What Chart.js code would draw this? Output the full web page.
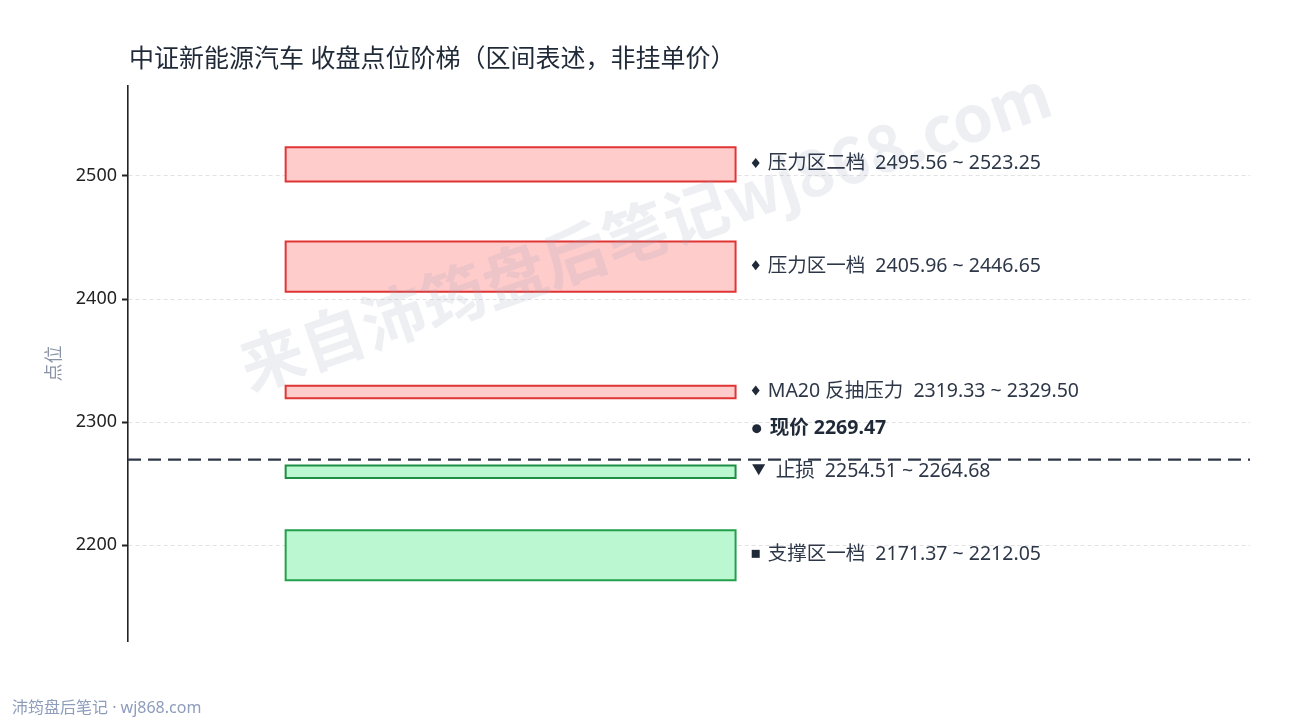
<!DOCTYPE html>
<html>
<head>
<meta charset="utf-8">
<script src="https://cdn.jsdelivr.net/npm/chart.js@4.4.1/dist/chart.umd.min.js"></script>
<style>
    html, body { margin: 0; padding: 0; background: #fff; }
    #wrap { width: 1290px; height: 720px; }
</style>
</head>
<body>
<div id="wrap"><canvas id="ladderChart"></canvas></div>
<script>
// zone data
const zoneNames = ['压力区二档', '压力区一档', 'MA20 反抽压力', '止损', '支撑区一档'];
const zoneLow = [2495.56, 2405.96, 2319.33, 2254.51, 2171.37];
const zoneHigh = [2523.25, 2446.65, 2329.50, 2264.68, 2212.05];
const zoneKind = ['resist', 'resist', 'resist', 'stop', 'support'];
const currentPrice = 2269.47;
const yTicks = [2200, 2300, 2400, 2500];

const FONT = '"Noto Sans", "Noto Sans CJK SC", sans-serif';
const kindStyle = {
    resist: { fill: '#ffcccc', border: '#e03535', marker: 'diamond' },
    stop: { fill: '#bbf7d0', border: '#1e8e44', marker: 'triangle' },
    support: { fill: '#bbf7d0', border: '#22a04b', marker: 'square' }
};
const BAR_L = 0.1405, BAR_R = 0.5415, LABEL_X = 0.555;

const datasets = zoneNames.map(function (name, i) {
    const st = kindStyle[zoneKind[i]];
    return {
        label: name,
        data: [
            { x: BAR_L, y: zoneLow[i] }, { x: BAR_R, y: zoneLow[i] },
            { x: BAR_R, y: zoneHigh[i] }, { x: BAR_L, y: zoneHigh[i] },
            { x: BAR_L, y: zoneLow[i] }
        ],
        showLine: true,
        fill: 'shape',
        backgroundColor: st.fill,
        borderColor: st.border,
        borderWidth: 2,
        borderJoinStyle: 'miter',
        borderCapStyle: 'square',
        pointRadius: 0,
        tension: 0
    };
});
datasets.push({
    label: '现价',
    data: [{ x: 0, y: currentPrice }, { x: 1, y: currentPrice }],
    showLine: true,
    borderColor: '#2d3748',
    borderWidth: 2.2,
    borderDash: [13, 7],
    pointRadius: 0,
    fill: false
});

function drawMarker(ctx, type, x, y) {
    ctx.save();
    ctx.fillStyle = '#1f2937';
    ctx.beginPath();
    if (type === 'diamond') {
        ctx.moveTo(x, y - 5); ctx.lineTo(x + 4, y); ctx.lineTo(x, y + 5); ctx.lineTo(x - 4, y);
    } else if (type === 'square') {
        ctx.rect(x - 4, y - 4, 8, 8);
    } else if (type === 'triangle') {
        ctx.moveTo(x - 6.5, y - 6); ctx.lineTo(x + 6.5, y - 6); ctx.lineTo(x, y + 5);
    } else {
        ctx.arc(x, y, 4.5, 0, Math.PI * 2);
    }
    ctx.closePath();
    ctx.fill();
    ctx.restore();
}

const ladderText = {
    id: 'ladderText',
    afterDatasetsDraw(chart) {
        const ctx = chart.ctx;
        const xs = chart.scales.x, ys = chart.scales.y;
        const lx = xs.getPixelForValue(LABEL_X);

        // watermark
        ctx.save();
        ctx.translate(645, 230);
        ctx.rotate(-19 * Math.PI / 180);
        ctx.font = 'bold 64px "Noto Sans CJK SC", sans-serif';
        ctx.fillStyle = 'rgba(150, 160, 185, 0.17)';
        ctx.textAlign = 'center';
        ctx.textBaseline = 'middle';
        ctx.fillText('来自沛筠盘后笔记wj868.com', 0, 0);
        ctx.restore();

        // zone labels
        ctx.save();
        ctx.textBaseline = 'middle';
        zoneNames.forEach(function (name, i) {
            const y = ys.getPixelForValue((zoneLow[i] + zoneHigh[i]) / 2) - 0.5;
            const st = kindStyle[zoneKind[i]];
            const isStop = st.marker === 'triangle';
            drawMarker(ctx, st.marker, lx + (isStop ? 8 : 5), y - 1);
            ctx.font = '19.5px ' + FONT;
            ctx.fillStyle = '#2d3748';
            ctx.fillText(name + '  ' + zoneLow[i].toFixed(2) + ' ~ ' + zoneHigh[i].toFixed(2),
                lx + (isStop ? 25 : 17), y);
        });

        // current price label
        const cy = ys.getPixelForValue(currentPrice) - 31;
        drawMarker(ctx, 'circle', lx + 6, cy);
        ctx.font = 'bold 19.5px ' + FONT;
        ctx.fillStyle = '#1f2937';
        ctx.fillText('现价 ' + currentPrice.toFixed(2), lx + 19, cy);
        ctx.restore();

        // title and footer
        ctx.save();
        ctx.textBaseline = 'middle';
        ctx.fillStyle = '#1f2937';
        ctx.font = '25px ' + FONT;
        ctx.fillText('中证新能源汽车 收盘点位阶梯（区间表述，非挂单价）', 129, 60);
        ctx.fillStyle = '#8e9dbb';
        ctx.font = '16px ' + FONT;
        ctx.fillText('沛筠盘后笔记 · wj868.com', 12, 708);
        ctx.restore();
    }
};

new Chart(document.getElementById('ladderChart'), {
    type: 'scatter',
    data: { datasets: datasets },
    options: {
        responsive: true,
        maintainAspectRatio: false,
        animation: false,
        layout: { padding: { top: 86, right: 40, bottom: 79, left: 0 } },
        plugins: {
            legend: { display: false },
            tooltip: { enabled: false }
        },
        scales: {
            x: { type: 'linear', min: 0, max: 1, display: false },
            y: {
                type: 'linear',
                min: 2122.1,
                max: 2573.1,
                afterFit: function (scale) { scale.width = 128; },
                afterBuildTicks: function (scale) {
                    scale.ticks = yTicks.map(v => ({ value: v }));
                },
                ticks: {
                    color: '#222',
                    padding: 5,
                    font: { family: FONT, size: 18 },
                    callback: v => String(v)
                },
                grid: {
                    color: '#e2e2e2',
                    drawTicks: true,
                    tickColor: '#222',
                    tickLength: 6,
                    tickWidth: 2,
                    tickBorderDash: []
                },
                border: { display: true, color: '#222', width: 1.6, dash: [4, 3] },
                title: {
                    display: true,
                    text: '点位',
                    color: '#8a94a6',
                    font: { family: FONT, size: 18 },
                    padding: { top: 44, bottom: 0 }
                }
            }
        }
    },
    plugins: [ladderText]
});
</script>
</body>
</html>
